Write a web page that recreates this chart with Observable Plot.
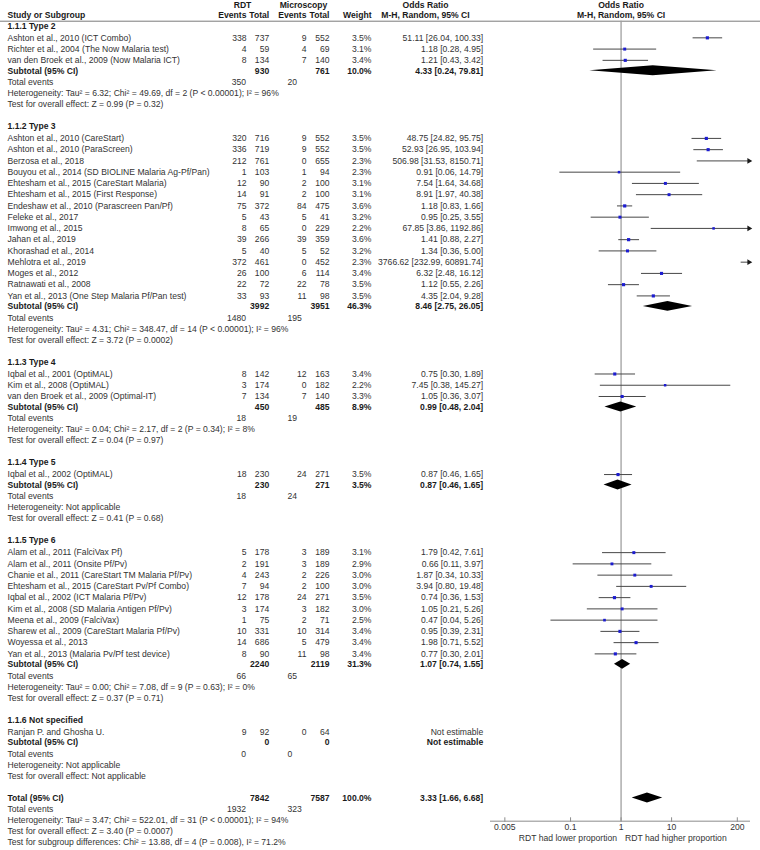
<!DOCTYPE html>
<html><head><meta charset="utf-8">
<script src="https://cdn.jsdelivr.net/npm/d3@7"></script>
<script src="https://cdn.jsdelivr.net/npm/@observablehq/plot@0.6"></script>
<style>
html,body{margin:0;padding:0;background:#fff;}
#chart svg{display:block;}
</style></head>
<body><div id="chart"></div>
<script>
// ---------------- DATA ----------------
const groupNames = ["1.1.1 Type 2","1.1.2 Type 3","1.1.3 Type 4","1.1.4 Type 5","1.1.5 Type 6","1.1.6 Not specified"];

const studyGroup = [0,0,0, 1,1,1,1,1,1,1,1,1,1,1,1,1,1,1, 2,2,2, 3, 4,4,4,4,4,4,4,4,4,4, 5];
const studyNames = [
  "Ashton et al., 2010 (ICT Combo)",
  "Richter et al., 2004 (The Now Malaria test)",
  "van den Broek et al., 2009 (Now Malaria ICT)",
  "Ashton et al., 2010 (CareStart)",
  "Ashton et al., 2010 (ParaScreen)",
  "Berzosa et al., 2018",
  "Bouyou et al., 2014 (SD BIOLINE Malaria Ag-Pf/Pan)",
  "Ehtesham et al., 2015 (CareStart Malaria)",
  "Ehtesham et al., 2015 (First Response)",
  "Endeshaw et al., 2010 (Parascreen Pan/Pf)",
  "Feleke et al., 2017",
  "Imwong et al., 2015",
  "Jahan et al., 2019",
  "Khorashad et al., 2014",
  "Mehlotra et al., 2019",
  "Moges et al., 2012",
  "Ratnawati et al., 2008",
  "Yan et al., 2013 (One Step Malaria Pf/Pan test)",
  "Iqbal et al., 2001 (OptiMAL)",
  "Kim et al., 2008 (OptiMAL)",
  "van den Broek et al., 2009 (Optimal-IT)",
  "Iqbal et al., 2002 (OptiMAL)",
  "Alam et al., 2011 (FalciVax Pf)",
  "Alam et al., 2011 (Onsite Pf/Pv)",
  "Chanie et al., 2011 (CareStart TM Malaria Pf/Pv)",
  "Ehtesham et al., 2015 (CareStart Pv/Pf Combo)",
  "Iqbal et al., 2002 (ICT Malaria Pf/Pv)",
  "Kim et al., 2008 (SD Malaria Antigen Pf/Pv)",
  "Meena et al., 2009 (FalciVax)",
  "Sharew et al., 2009 (CareStart Malaria Pf/Pv)",
  "Woyessa et al., 2013",
  "Yan et al., 2013 (Malaria Pv/Pf test device)",
  "Ranjan P. and Ghosha U."
];
const rdtEvents = [338,4,8, 320,336,212,1,12,14,75,5,8,39,5,372,26,22,33, 8,3,7, 18, 5,2,4,7,12,3,1,10,14,8, 9];
const rdtTotal  = [737,59,134, 716,719,761,103,90,91,372,43,65,266,40,461,100,72,93, 142,174,134, 230, 178,191,243,94,178,174,75,331,686,90, 92];
const micEvents = [9,4,7, 9,9,0,1,2,2,84,5,0,39,5,0,6,22,11, 12,0,7, 24, 3,3,2,2,24,3,2,10,5,11, 0];
const micTotal  = [552,69,140, 552,552,655,94,100,100,475,41,229,359,52,452,114,78,98, 163,182,140, 271, 189,189,226,100,271,182,71,314,479,98, 64];
const weights   = [3.5,3.1,3.4, 3.5,3.5,2.3,2.3,3.1,3.1,3.6,3.2,2.2,3.6,3.2,2.3,3.4,3.5,3.5, 3.4,2.2,3.3, 3.5, 3.1,2.9,3.0,3.0,3.5,3.0,2.5,3.4,3.4,3.4, null];
const orEst = [51.11,1.18,1.21, 48.75,52.93,506.98,0.91,7.54,8.91,1.18,0.95,67.85,1.41,1.34,3766.62,6.32,1.12,4.35, 0.75,7.45,1.05, 0.87, 1.79,0.66,1.87,3.94,0.74,1.05,0.47,0.95,1.98,0.77, null];
const orLo  = [26.04,0.28,0.43, 24.82,26.95,31.53,0.06,1.64,1.97,0.83,0.25,3.86,0.88,0.36,232.99,2.48,0.55,2.04, 0.30,0.38,0.36, 0.46, 0.42,0.11,0.34,0.80,0.36,0.21,0.04,0.39,0.71,0.30, null];
const orHi  = [100.33,4.95,3.42, 95.75,103.94,8150.71,14.79,34.68,40.38,1.66,3.55,1192.86,2.27,5.00,60891.74,16.12,2.26,9.28, 1.89,145.27,3.07, 1.65, 7.61,3.97,10.33,19.48,1.53,5.26,5.26,2.31,5.52,2.01, null];

const subRdtTotal   = [930,3992,450,230,2240,0];
const subMicTotal   = [761,3951,485,271,2119,0];
const subWeight     = [10.0,46.3,8.9,3.5,31.3,null];
const subEst        = [4.33,8.46,0.99,0.87,1.07,null];
const subLo         = [0.24,2.75,0.48,0.46,0.74,null];
const subHi         = [79.81,26.05,2.04,1.65,1.55,null];
const subRdtEvents  = [350,1480,18,18,66,0];
const subMicEvents  = [20,195,19,24,65,0];
const subHeterogeneity = [
  "Tau² = 6.32; Chi² = 49.69, df = 2 (P < 0.00001); I² = 96%",
  "Tau² = 4.31; Chi² = 348.47, df = 14 (P < 0.00001); I² = 96%",
  "Tau² = 0.04; Chi² = 2.17, df = 2 (P = 0.34); I² = 8%",
  "Not applicable",
  "Tau² = 0.00; Chi² = 7.08, df = 9 (P = 0.63); I² = 0%",
  "Not applicable"
];
const subOverallEffect = [
  "Z = 0.99 (P = 0.32)",
  "Z = 3.72 (P = 0.0002)",
  "Z = 0.04 (P = 0.97)",
  "Z = 0.41 (P = 0.68)",
  "Z = 0.37 (P = 0.71)",
  "Not applicable"
];

const totalValues = {rdtTotal: 7842, micTotal: 7587, weight: 100.0, est: 3.33, lo: 1.66, hi: 6.68, rdtEvents: 1932, micEvents: 323};
const totalHeterogeneity = "Tau² = 3.47; Chi² = 522.01, df = 31 (P < 0.00001); I² = 94%";
const totalOverallEffect = "Z = 3.40 (P = 0.0007)";
const subgroupDifferences = "Chi² = 13.88, df = 4 (P = 0.008), I² = 71.2%";

const xTicks = [0.005, 0.1, 1, 10, 200];
const xTickLabels = ["0.005", "0.1", "1", "10", "200"];
const favoursLabels = ["RDT had lower proportion", "RDT had higher proportion"];

// ---------------- LAYOUT ----------------
const W = 760, H = 850;
const U = 11.25;          // px per text line
const Y0 = 25.3;          // px centre of first group header line
const FS = 8.6;
const FONT = "'Liberation Sans', Arial, Helvetica, sans-serif";
const XD = [0.0026, 365]; // visible extent of the log axis
const XR = [490, 750];

const COLS = {
  name: {x: 7, anchor: "start"},
  rdtE: {x: 246, anchor: "end"},
  rdtT: {x: 268.7, anchor: "end"},
  micE: {x: 306, anchor: "end"},
  micT: {x: 329, anchor: "end"},
  w:    {x: 371, anchor: "end"},
  ci:   {x: 482.7, anchor: "end"},
  teR:  {x: 245.5, anchor: "end"},
  teM:  {x: 287, anchor: "start"},
  hRDT: {x: 242, anchor: "middle"},
  hMic: {x: 303, anchor: "middle"},
  hOR:  {x: 425, anchor: "middle"}
};

const cells = [];
const add = (col, y, text, bold = false) => { if (text !== "" && text != null) cells.push({col, y, text: String(text), bold}); };
const fmtW = w => w == null ? "" : w.toFixed(1) + "%";
const fmtCI = (e, l, h) => e == null ? "Not estimable" : `${e.toFixed(2)} [${l.toFixed(2)}, ${h.toFixed(2)}]`;

const studyRows = [];
const diamonds = [];
const DH = 0.44; // diamond half height in lines

// header
const hRow1 = -1.85, hRow2 = -0.92, hLine = -0.41;
add("hRDT", hRow1, "RDT", true);
add("hMic", hRow1, "Microscopy", true);
add("hOR", hRow1, "Odds Ratio", true);
add("name", hRow2, "Study or Subgroup", true);
add("rdtE", hRow2, "Events", true);
add("rdtT", hRow2, "Total", true);
add("micE", hRow2, "Events", true);
add("micT", hRow2, "Total", true);
add("w", hRow2, "Weight", true);
add("hOR", hRow2, "M-H, Random, 95% CI", true);
const rightHeader = [
  {x: 1, y: hRow1, t: "Odds Ratio"},
  {x: 1, y: hRow2, t: "M-H, Random, 95% CI"}
];

function addDiamond(id, y, e, l, h) {
  if (e == null) return;
  diamonds.push({id, y: y - DH, x1: e, x2: e});
  diamonds.push({id, y: y, x1: l, x2: h});
  diamonds.push({id, y: y + DH, x1: e, x2: e});
}

let y = 0;
groupNames.forEach((g, gi) => {
  add("name", y, g, true);
  y += 1.07;
  const idx = studyGroup.map((s, i) => s === gi ? i : -1).filter(i => i >= 0);
  idx.forEach((i, k) => {
    if (k > 0) y += 1;
    add("name", y, studyNames[i]);
    add("rdtE", y, rdtEvents[i]);
    add("rdtT", y, rdtTotal[i]);
    add("micE", y, micEvents[i]);
    add("micT", y, micTotal[i]);
    add("w", y, fmtW(weights[i]));
    add("ci", y, fmtCI(orEst[i], orLo[i], orHi[i]));
    studyRows.push({y, est: orEst[i], lo: orLo[i], hi: orHi[i], w: weights[i]});
  });
  y += 0.93;
  add("name", y, "Subtotal (95% CI)", true);
  add("rdtT", y, subRdtTotal[gi], true);
  add("micT", y, subMicTotal[gi], true);
  add("w", y, fmtW(subWeight[gi]), true);
  add("ci", y, fmtCI(subEst[gi], subLo[gi], subHi[gi]), true);
  addDiamond("g" + gi, y, subEst[gi], subLo[gi], subHi[gi]);
  y += 1.02;
  add("name", y, "Total events");
  add("teR", y, subRdtEvents[gi]);
  add("teM", y, subMicEvents[gi]);
  y += 0.98;
  add("name", y, "Heterogeneity: " + subHeterogeneity[gi]);
  y += 0.98;
  add("name", y, "Test for overall effect: " + subOverallEffect[gi]);
  y += 1.96;
});
const totalRow = y;
add("name", y, "Total (95% CI)", true);
add("rdtT", y, totalValues.rdtTotal, true);
add("micT", y, totalValues.micTotal, true);
add("w", y, fmtW(totalValues.weight), true);
add("ci", y, fmtCI(totalValues.est, totalValues.lo, totalValues.hi), true);
addDiamond("total", y, totalValues.est, totalValues.lo, totalValues.hi);
y += 1.02;
add("name", y, "Total events");
add("teR", y, totalValues.rdtEvents);
add("teM", y, totalValues.micEvents);
y += 0.98;
add("name", y, "Heterogeneity: " + totalHeterogeneity);
y += 0.98;
add("name", y, "Test for overall effect: " + totalOverallEffect);
y += 0.98;
add("name", y, "Test for subgroup differences: " + subgroupDifferences);

const axisRow = totalRow + 2.06;
const marginBottom = H - (Y0 + axisRow * U);

// ---------------- MARKS ----------------
const textMarks = [];
for (const key of Object.keys(COLS)) {
  for (const bold of [false, true]) {
    const data = cells.filter(c => c.col === key && c.bold === bold);
    if (!data.length) continue;
    textMarks.push(Plot.text(data, {
      y: "y", text: "text", frameAnchor: "left", dx: COLS[key].x,
      textAnchor: COLS[key].anchor, fontSize: FS,
      fontWeight: bold ? "bold" : "normal", fill: bold ? "#1a1a1a" : "#333"
    }));
  }
}

const axisColor = "#8c8c8c";
const tickData = xTicks.map((v, i) => ({x: v, label: xTickLabels[i]}));

const chart = Plot.plot({
  width: W, height: H,
  marginTop: 0, marginLeft: 0, marginRight: 0, marginBottom,
  style: {fontFamily: FONT, fontSize: FS + "px", background: "#fff", color: "#333"},
  x: {type: "log", domain: XD, range: XR, axis: null},
  y: {domain: [0, 1], range: [Y0, Y0 + U], axis: null},
  r: {type: "sqrt", domain: [0, 4], range: [0, 1.9]},
  marks: [
    Plot.ruleY([hLine], {stroke: "#7a7a7a", strokeWidth: 1}),
    Plot.ruleX([1], {y1: hLine, y2: axisRow, stroke: "#a0a0a0", strokeWidth: 1.3}),
    // study confidence intervals
    Plot.link(studyRows.filter(d => d.est != null), {
      x1: d => Math.max(d.lo, XD[0]), x2: d => Math.min(d.hi, XD[1]),
      y1: "y", y2: "y", stroke: "#474747", strokeWidth: 1
    }),
    Plot.dot(studyRows.filter(d => d.est != null && d.hi > XD[1]), {
      x: () => XD[1], y: "y", symbol: "triangle", rotate: 90, r: 2.1,
      fill: "#1a1a1a", dx: -1.5
    }),
    Plot.dot(studyRows.filter(d => d.est != null && d.est <= XD[1]), {
      x: "est", y: "y", r: "w", symbol: "square", fill: "#1c1cd0"
    }),
    // pooled diamonds
    Plot.areaX(diamonds, {y: "y", x1: "x1", x2: "x2", z: "id", fill: "#000"}),
    // x axis (log scale)
    Plot.ruleY([axisRow], {x1: XD[0], x2: XD[1], stroke: axisColor, strokeWidth: 1}),
    Plot.ruleX(tickData, {x: "x", y1: axisRow - 0.3, y2: axisRow + 0.1, stroke: axisColor}),
    Plot.text(tickData, {x: "x", y: () => axisRow + 0.53, text: "label", fontSize: FS, fill: "#333"}),
    Plot.text([{x: 1, y: axisRow + 1.5, t: favoursLabels[0]}], {x: "x", y: "y", text: "t",
      textAnchor: "end", dx: -4, fontSize: FS, fill: "#333"}),
    Plot.text([{x: 1, y: axisRow + 1.5, t: favoursLabels[1]}], {x: "x", y: "y", text: "t",
      textAnchor: "start", dx: 4, fontSize: FS, fill: "#333"}),
    Plot.text(rightHeader, {x: "x", y: "y", text: "t", fontWeight: "bold", fontSize: FS, fill: "#1a1a1a"}),
    ...textMarks
  ]
});
document.getElementById("chart").appendChild(chart);
</script>
</body></html>
